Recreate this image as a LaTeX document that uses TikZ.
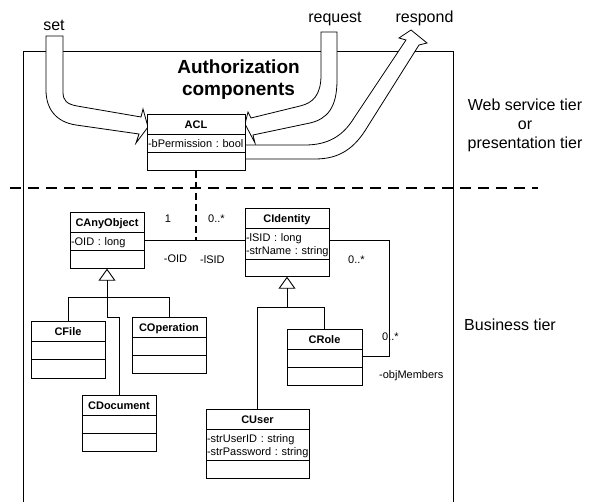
\documentclass[tikz,border=0pt]{standalone}
\usepackage{fontspec}
\setmainfont{Liberation Sans}
\frenchspacing
\usepackage{tikz}
\usetikzlibrary{arrows.meta,shapes.multipart,calc}
\tikzstyle{umlclass}=[rectangle split, rectangle split parts=3, draw, fill=white,
  line width=0.9pt, inner xsep=1pt, inner ysep=0pt, outer sep=0pt,
  anchor=north west, align=left, font=\fontsize{11}{13}\selectfont]
\newcommand{\umlclass}{\node[umlclass]}
\newcommand{\titlerow}[1]{\rule[-6pt]{0pt}{20pt}\makebox[\hsize]{\textbf{#1}}}
\newcommand{\attrrow}[1]{\rule[-5pt]{0pt}{17pt}\mbox{#1}}
\newcommand{\attrtwo}[2]{\rule{0pt}{12pt}\mbox{#1}\\\mbox{#2}\rule[-5pt]{0pt}{5pt}}
\newcommand{\blankrow}{\rule{0pt}{17pt}}

\begin{document}
\begin{tikzpicture}[x=1pt,y=-1pt]
	\tikzstyle{tierline}=[line width=1.6pt, dash pattern=on 11pt off 7pt]
	\tikzstyle{linkline}=[line width=0.9pt]
	\tikzstyle{inherit}=[linkline, -{Triangle[open, length=12pt, width=17pt]}]
	\tikzstyle{fatarrow}=[draw, fill=white, line width=0.8pt]
	\tikzstyle{lbl}=[inner sep=0pt, font=\fontsize{11}{13}\selectfont]
	\tikzstyle{tiertext}=[inner sep=0pt, font=\fontsize{16}{19}\selectfont, align=center]
	\useasboundingbox (0,0) rectangle (593,502);
	% Frame and tier separator
	\draw[line width=0.8pt] (23,502) -- (23,51) -- (453,51) -- (453,502);
	\draw[tierline] (10,188) -- (538,188);
	% Block arrows
	\path[fatarrow] (46,36) -- (63,36) -- (63,92) .. controls (63,101) and (67,104) .. (77,106)
		-- (141,117) -- (143,109) -- (148,127) -- (136,143) -- (139,134)
		-- (76,125) .. controls (56,122) and (46,109) .. (46,90) -- cycle;
	\path[fatarrow] (321,32) -- (337,32) -- (337,80) .. controls (337,108) and (327,119) .. (310,123)
		-- (253,135) -- (255,143) -- (245,124) -- (248,112) -- (251,118)
		-- (300,106) .. controls (313,103) and (321,95) .. (321,75) -- cycle;
	\path[fatarrow] (245,145) -- (305,145) .. controls (328,145) and (343,136) .. (354,118)
		-- (406,40) -- (399,38) -- (411,30) -- (427,43) -- (419,45)
		-- (368,126) .. controls (355,148) and (340,159) .. (315,159) -- (245,159) -- cycle;
	% Texts
	\node[tiertext, anchor=base] (set) at (54,31) {set};
	\node[tiertext, anchor=base] (request) at (335,23) {request};
	\node[tiertext, anchor=base] (respond) at (424.5,23) {respond};
	\node[inner sep=0pt, align=center, font=\bfseries\fontsize{19}{22}\selectfont] (title) at (238.5,80) {Authorization\\components};
	\node[tiertext] (webtier) at (525,125) {Web service tier\\or\\presentation tier};
	\node[tiertext, anchor=base] (bustier) at (510,330) {Business tier};
	% Classes
	\umlclass[text width=96pt] (acl) at (147,114) {\titlerow{ACL}
		\nodepart{two}\attrrow{-bPermission : bool}
		\nodepart{three}\blankrow};
	\umlclass[text width=72pt] (anyobj) at (70,212) {\titlerow{CAnyObject}
		\nodepart{two}\attrrow{-OID : long}
		\nodepart{three}\blankrow};
	\umlclass[text width=82pt] (identity) at (245,208) {\titlerow{CIdentity}
		\nodepart{two}\attrtwo{-lSID : long}{-strName : string}
		\nodepart{three}\rule{0pt}{16pt}};
	\umlclass[text width=72pt] (cfile) at (31,321) {\titlerow{CFile}
		\nodepart{two}\blankrow
		\nodepart{three}\rule{0pt}{18pt}};
	\umlclass[text width=72pt] (coperation) at (132,317) {\titlerow{COperation}
		\nodepart{two}\blankrow
		\nodepart{three}\blankrow};
	\umlclass[text width=72pt] (cdocument) at (82,395) {\titlerow{CDocument}
		\nodepart{two}\blankrow
		\nodepart{three}\blankrow};
	\umlclass[text width=73pt] (crole) at (287,329) {\titlerow{CRole}
		\nodepart{two}\blankrow
		\nodepart{three}\blankrow};
	\umlclass[text width=101pt] (cuser) at (206,409) {\titlerow{CUser}
		\nodepart{two}\attrtwo{-strUserID : string}{-strPassword : string}
		\nodepart{three}\blankrow};
	% Links
	\coordinate (assoc) at (196,240);
	\coordinate (selfc) at (389,356);
	\coordinate (gen1) at (107,297);
	\coordinate (bend1) at (107,317);
	\coordinate (gen2) at (287,307);
	\draw[linkline] (anyobj.east |- assoc) -- (identity.west |- assoc);
	\draw[line width=1.5pt, dash pattern=on 7pt off 4pt] (acl.south) -- (assoc);
	\draw[linkline] (identity.east |- assoc) -| (selfc) -- (crole.east |- selfc);
	\draw[inherit] (cfile.north) |- (gen1) -- (anyobj.south);
	\draw[linkline] (coperation.north) |- (gen1);
	\draw[linkline] (cdocument.north) |- (bend1) -- (gen1);
	\draw[inherit] (cuser.north) |- (gen2) -- (identity.south);
	\draw[linkline] (crole.north) |- (gen2);
	% Multiplicities and roles
	\node[lbl, anchor=base] (m1) at (168,223) {1};
	\node[lbl, anchor=base west] (m2) at (208,223) {0..*};
	\node[lbl, anchor=base] (r1) at (175.5,262) {-OID};
	\node[lbl, anchor=base west] (r2) at (200,263) {-lSID};
	\node[lbl, anchor=base west] (m3) at (348,263) {0..*};
	\node[lbl, anchor=base west] (m4) at (382,340) {0..*};
	\node[lbl, anchor=base west] (r3) at (379,378) {-objMembers};
\end{tikzpicture}
\end{document}
